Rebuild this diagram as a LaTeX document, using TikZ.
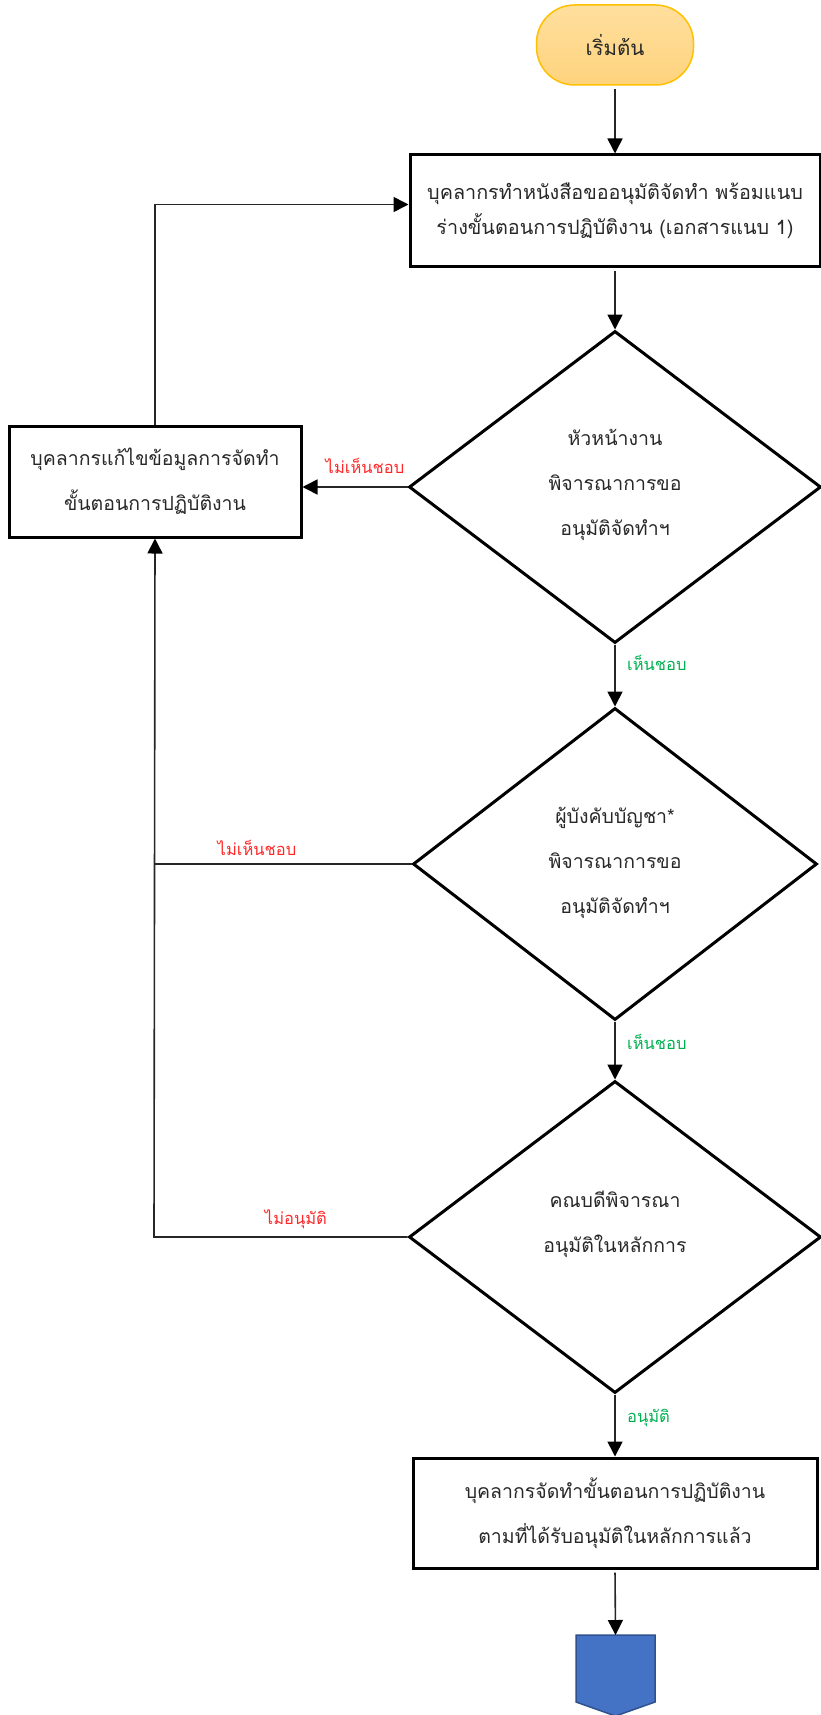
\documentclass[tikz,border=0pt]{standalone}
\usepackage{fontspec}
\newfontfamily\thai[Script=Thai]{Loma}
\usetikzlibrary{arrows.meta,shapes.geometric}
\definecolor{txt}{RGB}{40,40,40}
\definecolor{nored}{RGB}{255,40,40}
\definecolor{okgreen}{RGB}{0,176,80}
\definecolor{startfill1}{RGB}{255,223,158}
\definecolor{startfill2}{RGB}{254,211,125}
\definecolor{startline}{RGB}{255,192,0}
\definecolor{endfill}{RGB}{68,114,196}
\definecolor{endline}{RGB}{47,82,143}
\tikzset{
  procbox/.style={draw=black,line width=3pt,rectangle,inner sep=0pt,align=center,text=txt,font=\thai\fontsize{19.5}{45}\selectfont},
  decbox/.style={draw=black,line width=3pt,diamond,inner sep=0pt},
  dectext/.style={align=center,text=txt,font=\thai\fontsize{19.5}{45}\selectfont},
  conn/.style={draw=black!85,line width=1.6pt,-{Triangle[length=15pt,width=15pt,color=black]}},
  plainline/.style={draw=black!85,line width=1.6pt},
  nolabel/.style={text=nored,font=\thai\fontsize{16.5}{20}\selectfont},
  oklabel/.style={text=okgreen,font=\thai\fontsize{16.5}{20}\selectfont}
}
\begin{document}
\begin{tikzpicture}[x=1pt,y=-1pt]
\useasboundingbox (0,0) rectangle (821,1715);
% start
\node[rectangle,rounded corners=38pt,minimum width=157pt,minimum height=80pt,
  top color=startfill1,bottom color=startfill2,draw=startline,line width=1.5pt,
  text=txt,font=\thai\fontsize{20.5}{24}\selectfont] (start) at (615,45) {เริ่มต้น};
% box1
\node[procbox,minimum width=410pt,minimum height=111pt,font=\thai\fontsize{19.8}{35}\selectfont] (box1) at (615,210.5)
  {บุคลากรทำหนังสือขออนุมัติจัดทำ พร้อมแนบ\\ร่างขั้นตอนการปฏิบัติงาน (เอกสารแนบ 1)};
% diamond 1
\node[decbox,minimum width=412pt,minimum height=312pt] (d1) at (615,487) {};
\node[dectext] (d1t) at (615,485) {หัวหน้างาน\\พิจารณาการขอ\\อนุมัติจัดทำฯ};
% box2
\node[procbox,minimum width=292pt,minimum height=111pt] (box2) at (155,481.5)
  {บุคลากรแก้ไขข้อมูลการจัดทำ\\ขั้นตอนการปฏิบัติงาน};
% diamond 2
\node[decbox,minimum width=404pt,minimum height=312pt] (d2) at (615,864) {};
\node[dectext] (d2t) at (615,863) {ผู้บังคับบัญชา*\\พิจารณาการขอ\\อนุมัติจัดทำฯ};
% diamond 3
\node[decbox,minimum width=412pt,minimum height=312pt] (d3) at (615,1237) {};
\node[dectext] (d3t) at (615,1224) {คณบดีพิจารณา\\อนุมัติในหลักการ};
% box3
\node[procbox,minimum width=404pt,minimum height=110pt] (box3) at (615,1513)
  {บุคลากรจัดทำขั้นตอนการปฏิบัติงาน\\ตามที่ได้รับอนุมัติในหลักการแล้ว};
% off-page connector
\draw[fill=endfill,draw=endline,line width=1.5pt] (576,1635) -- (655,1635) -- (655,1702) -- (615.5,1716) -- (576,1702) -- cycle;
\coordinate (endtop) at (615.5,1635);
% junctions
\coordinate (j2) at (154,864);
\coordinate (j3) at (154,1237);
% connectors
\draw[conn,shorten <=3pt] (start.south) -- (box1.north);
\draw[conn,shorten <=3pt] (box1.south) -- (d1.north);
\draw[conn] (d1.west) -- (d1.west -| box2.east) node[nolabel,midway,above=9pt,xshift=10pt] (l1) {ไม่เห็นชอบ};
\draw[conn] (box2.north) |- ([yshift=6pt]box1.west);
\draw[conn] (d1.south) -- (d2.north) node[oklabel,pos=0.3,right=8pt] (l2) {เห็นชอบ};
\draw[plainline] (d2.west) -- (j2) node[nolabel,pos=0.6,above=4pt] (l3) {ไม่เห็นชอบ};
\draw[conn] (d2.south) -- (d3.north) node[oklabel,pos=0.35,right=8pt] (l4) {เห็นชอบ};
\draw[conn] (d3.west) -- (j3) node[nolabel,pos=0.44,above=4pt] (l5) {ไม่อนุมัติ} -- (box2.south);
\draw[conn] (d3.south) -- (box3.north) node[oklabel,pos=0.38,right=8pt] (l6) {อนุมัติ};
\draw[conn,shorten <=3pt] (box3.south) -- (endtop);
\end{tikzpicture}
\end{document}
